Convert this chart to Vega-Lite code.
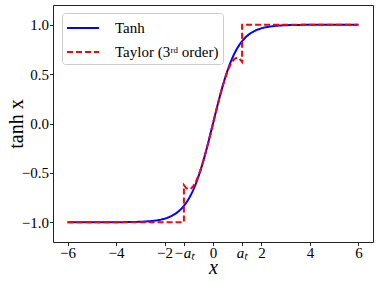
{
  "$schema": "https://vega.github.io/schema/vega-lite/v6.json",
  "autosize": {"type": "none"},
  "width": 320,
  "height": 237,
  "padding": {"left": 53, "top": 5, "right": 9, "bottom": 40},
  "background": "white",
  "config": {
    "view": {"stroke": "#222", "strokeWidth": 1},
    "axis": {
      "domain": false,
      "grid": false,
      "tickColor": "#222",
      "tickSize": 3.5,
      "labelColor": "black",
      "labelFont": "Liberation Serif",
      "labelFontSize": 15,
      "titleFont": "Liberation Serif",
      "titleFontWeight": "normal",
      "titleColor": "black",
      "titleFontSize": 20
    }
  },
  "datasets": {
    "tanh": [
      {"x": -6, "y": -1.0, "s": "Tanh"},
      {"x": -5, "y": -0.9999, "s": "Tanh"},
      {"x": -4.5, "y": -0.9998, "s": "Tanh"},
      {"x": -4, "y": -0.9993, "s": "Tanh"},
      {"x": -3.5, "y": -0.9982, "s": "Tanh"},
      {"x": -3, "y": -0.9951, "s": "Tanh"},
      {"x": -2.75, "y": -0.9918, "s": "Tanh"},
      {"x": -2.5, "y": -0.9866, "s": "Tanh"},
      {"x": -2.25, "y": -0.978, "s": "Tanh"},
      {"x": -2, "y": -0.964, "s": "Tanh"},
      {"x": -1.75, "y": -0.9414, "s": "Tanh"},
      {"x": -1.5, "y": -0.9051, "s": "Tanh"},
      {"x": -1.25, "y": -0.8483, "s": "Tanh"},
      {"x": -1, "y": -0.7616, "s": "Tanh"},
      {"x": -0.75, "y": -0.6351, "s": "Tanh"},
      {"x": -0.5, "y": -0.4621, "s": "Tanh"},
      {"x": -0.25, "y": -0.2449, "s": "Tanh"},
      {"x": 0, "y": 0, "s": "Tanh"},
      {"x": 0.25, "y": 0.2449, "s": "Tanh"},
      {"x": 0.5, "y": 0.4621, "s": "Tanh"},
      {"x": 0.75, "y": 0.6351, "s": "Tanh"},
      {"x": 1, "y": 0.7616, "s": "Tanh"},
      {"x": 1.25, "y": 0.8483, "s": "Tanh"},
      {"x": 1.5, "y": 0.9051, "s": "Tanh"},
      {"x": 1.75, "y": 0.9414, "s": "Tanh"},
      {"x": 2, "y": 0.964, "s": "Tanh"},
      {"x": 2.25, "y": 0.978, "s": "Tanh"},
      {"x": 2.5, "y": 0.9866, "s": "Tanh"},
      {"x": 2.75, "y": 0.9918, "s": "Tanh"},
      {"x": 3, "y": 0.9951, "s": "Tanh"},
      {"x": 3.5, "y": 0.9982, "s": "Tanh"},
      {"x": 4, "y": 0.9993, "s": "Tanh"},
      {"x": 4.5, "y": 0.9998, "s": "Tanh"},
      {"x": 5, "y": 0.9999, "s": "Tanh"},
      {"x": 6, "y": 1.0, "s": "Tanh"}
    ],
    "taylor": [
      {"i": 1, "x": -6, "y": -1, "s": "Taylor (3ʳᵈ order)"},
      {"i": 2, "x": -1.2, "y": -1, "s": "Taylor (3ʳᵈ order)"},
      {"i": 3, "x": -1.2, "y": -0.624, "s": "Taylor (3ʳᵈ order)"},
      {"i": 4, "x": -1.1, "y": -0.656, "s": "Taylor (3ʳᵈ order)"},
      {"i": 5, "x": -1.0, "y": -0.667, "s": "Taylor (3ʳᵈ order)"},
      {"i": 6, "x": -0.9, "y": -0.657, "s": "Taylor (3ʳᵈ order)"},
      {"i": 7, "x": -0.8, "y": -0.629, "s": "Taylor (3ʳᵈ order)"},
      {"i": 8, "x": -0.7, "y": -0.586, "s": "Taylor (3ʳᵈ order)"},
      {"i": 9, "x": -0.6, "y": -0.528, "s": "Taylor (3ʳᵈ order)"},
      {"i": 10, "x": -0.5, "y": -0.458, "s": "Taylor (3ʳᵈ order)"},
      {"i": 11, "x": -0.4, "y": -0.379, "s": "Taylor (3ʳᵈ order)"},
      {"i": 12, "x": -0.3, "y": -0.291, "s": "Taylor (3ʳᵈ order)"},
      {"i": 13, "x": -0.2, "y": -0.197, "s": "Taylor (3ʳᵈ order)"},
      {"i": 14, "x": -0.1, "y": -0.1, "s": "Taylor (3ʳᵈ order)"},
      {"i": 15, "x": 0, "y": 0, "s": "Taylor (3ʳᵈ order)"},
      {"i": 16, "x": 0.1, "y": 0.1, "s": "Taylor (3ʳᵈ order)"},
      {"i": 17, "x": 0.2, "y": 0.197, "s": "Taylor (3ʳᵈ order)"},
      {"i": 18, "x": 0.3, "y": 0.291, "s": "Taylor (3ʳᵈ order)"},
      {"i": 19, "x": 0.4, "y": 0.379, "s": "Taylor (3ʳᵈ order)"},
      {"i": 20, "x": 0.5, "y": 0.458, "s": "Taylor (3ʳᵈ order)"},
      {"i": 21, "x": 0.6, "y": 0.528, "s": "Taylor (3ʳᵈ order)"},
      {"i": 22, "x": 0.7, "y": 0.586, "s": "Taylor (3ʳᵈ order)"},
      {"i": 23, "x": 0.8, "y": 0.629, "s": "Taylor (3ʳᵈ order)"},
      {"i": 24, "x": 0.9, "y": 0.657, "s": "Taylor (3ʳᵈ order)"},
      {"i": 25, "x": 1.0, "y": 0.667, "s": "Taylor (3ʳᵈ order)"},
      {"i": 26, "x": 1.1, "y": 0.656, "s": "Taylor (3ʳᵈ order)"},
      {"i": 27, "x": 1.2, "y": 0.624, "s": "Taylor (3ʳᵈ order)"},
      {"i": 28, "x": 1.2, "y": 1, "s": "Taylor (3ʳᵈ order)"},
      {"i": 29, "x": 6, "y": 1, "s": "Taylor (3ʳᵈ order)"}
    ],
    "vlines": [
      {"x": -1.2, "y": -1.1, "y2": 1.1},
      {"x": 1.2, "y": -1.1, "y2": 1.1}
    ]
  },
  "layer": [
    {
      "data": {"name": "vlines"},
      "mark": {"type": "rule", "color": "#aaaaaa", "strokeWidth": 1, "strokeDash": [1.5, 1.5]},
      "encoding": {
        "x": {"field": "x", "type": "quantitative"},
        "y": {"field": "y", "type": "quantitative"},
        "y2": {"field": "y2"}
      }
    },
    {
      "data": {"name": "tanh"},
      "mark": {"type": "line", "strokeWidth": 2, "interpolate": "monotone"},
      "encoding": {
        "x": {"field": "x", "type": "quantitative"},
        "y": {"field": "y", "type": "quantitative"},
        "color": {"field": "s", "type": "nominal"},
        "strokeDash": {"field": "s", "type": "nominal"}
      }
    },
    {
      "data": {"name": "taylor"},
      "mark": {"type": "line", "strokeWidth": 2},
      "encoding": {
        "x": {"field": "x", "type": "quantitative"},
        "y": {"field": "y", "type": "quantitative"},
        "order": {"field": "i", "type": "quantitative"},
        "color": {"field": "s", "type": "nominal"},
        "strokeDash": {"field": "s", "type": "nominal"}
      }
    }
  ],
  "resolve": {"scale": {"color": "shared", "strokeDash": "shared"}},
  "encoding": {
    "x": {
      "field": "x", "type": "quantitative",
      "scale": {"domain": [-6.6, 6.6], "nice": false, "zero": false},
      "axis": {
        "title": "x",
        "titleFontStyle": "italic",
        "titleBaseline": "alphabetic",
        "titleY": 31,
        "values": [-6, -4, -2, -1.2, 0, 1.2, 2, 4, 6],
        "labelExpr": "datum.value == -1.2 ? '−aₜ' : (datum.value == 1.2 ? 'aₜ' : format(datum.value, 'd'))",
        "labelFontStyle": {"condition": {"test": "abs(datum.value) == 1.2", "value": "italic"}, "value": "normal"},
        "labelPadding": 0
      }
    },
    "y": {
      "field": "y", "type": "quantitative",
      "scale": {"domain": [-1.2, 1.2], "nice": false, "zero": false},
      "axis": {
        "title": "tanh x",
        "values": [-1, -0.5, 0, 0.5, 1],
        "format": ".1f",
        "titleBaseline": "alphabetic",
        "titleX": -31,
        "labelPadding": 1
      }
    },
    "color": {
      "field": "s", "type": "nominal",
      "scale": {"domain": ["Tanh", "Taylor (3ʳᵈ order)"], "range": ["#0000ff", "#ff0000"]},
      "legend": {
        "title": null,
        "orient": "none",
        "legendX": 9,
        "legendY": 8,
        "symbolType": "M-1,0H2.2",
        "symbolSize": 400,
        "symbolStrokeWidth": 2,
        "labelFont": "Liberation Serif",
        "labelFontSize": 15,
        "labelColor": "black",
        "labelOffset": 27,
        "rowPadding": 5,
        "padding": 4,
        "strokeColor": "#cccccc",
        "fillColor": "rgba(255,255,255,0.8)",
        "cornerRadius": 3
      }
    },
    "strokeDash": {
      "field": "s", "type": "nominal",
      "scale": {"domain": ["Tanh", "Taylor (3ʳᵈ order)"], "range": [[1, 0], [6, 3]]},
      "legend": {
        "title": null,
        "orient": "none",
        "legendX": 9,
        "legendY": 8,
        "symbolType": "M-1,0H2.2",
        "symbolSize": 400,
        "symbolStrokeWidth": 2,
        "labelFont": "Liberation Serif",
        "labelFontSize": 15,
        "labelColor": "black",
        "labelOffset": 27,
        "rowPadding": 5,
        "padding": 4,
        "strokeColor": "#cccccc",
        "fillColor": "rgba(255,255,255,0.8)",
        "cornerRadius": 3
      }
    }
  }
}
